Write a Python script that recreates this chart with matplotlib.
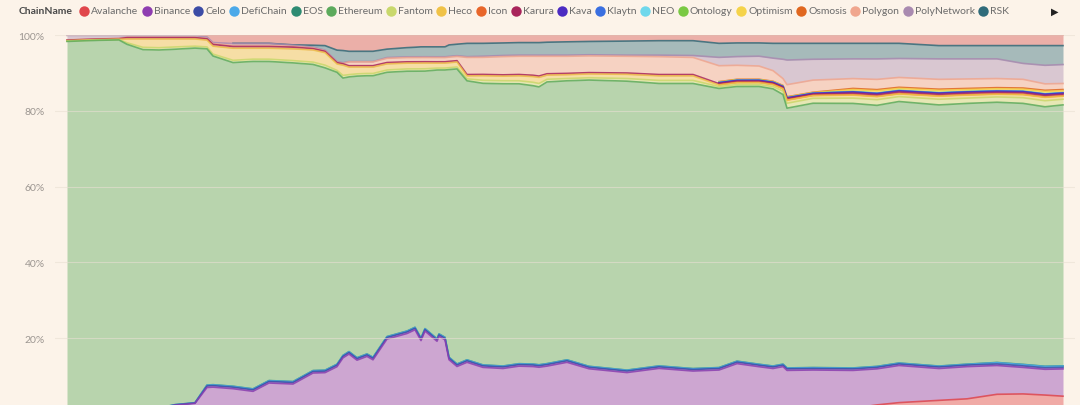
import numpy as np
import matplotlib
matplotlib.use("Agg")
import matplotlib.pyplot as plt

nan = np.nan

# day index of each sample (x axis labels are cut off in the source image)
days = [0, 16, 26, 30, 38, 46, 54, 64, 70, 73,
        83, 93, 101, 113, 123, 129, 135, 138, 141, 145,
        150, 153, 160, 170, 174, 177, 179, 185, 186, 189,
        191, 195, 200, 208, 218, 226, 233, 236, 240, 250,
        261, 280, 296, 313, 326, 335, 346, 353, 358, 360,
        373, 393, 405, 416, 436, 450, 465, 478, 489, 498]

# share of total value per chain (%), bottom to top of the stack; nan = no data yet
avalanche = [nan, nan, nan, nan, nan, nan, nan, nan, nan, nan,
             nan, nan, nan, nan, nan, nan, nan, nan, nan, nan,
             nan, nan, nan, nan, nan, nan, nan, nan, nan, nan,
             nan, nan, nan, nan, nan, nan, nan, nan, nan, nan,
             nan, nan, nan, nan, nan, nan, nan, nan, nan, nan,
             0.2, 1.5, 2.4, 3.0, 3.6, 4.0, 5.2, 5.3, 5.0, 4.7]
binance = [0.8, 0.9, 1.0, 1.0, 1.2, 1.4, 2.3, 2.8, 7.0, 7.1,
           6.7, 6.0, 8.2, 7.9, 10.8, 10.9, 12.5, 14.8, 15.8, 14.2,
           15.2, 14.3, 19.6, 21.0, 22.0, 19.2, 21.7, 19.0, 20.3, 19.4,
           14.2, 12.4, 13.6, 12.3, 12.0, 12.6, 12.5, 12.3, 12.6, 13.6,
           11.9, 10.9, 12.0, 11.3, 11.6, 13.3, 12.5, 12.0, 12.5, 11.5,
           11.4, 10.0, 9.5, 9.8, 8.4, 8.5, 7.6, 7.0, 6.8, 7.2]
celo = [0.1, 0.1, 0.1, 0.1, 0.1, 0.1, 0.1, 0.1, 0.4, 0.4,
        0.4, 0.4, 0.4, 0.4, 0.4, 0.4, 0.4, 0.4, 0.4, 0.4,
        0.4, 0.4, 0.4, 0.4, 0.4, 0.4, 0.4, 0.4, 0.4, 0.4,
        0.4, 0.4, 0.4, 0.4, 0.4, 0.4, 0.4, 0.4, 0.4, 0.4,
        0.4, 0.4, 0.4, 0.4, 0.4, 0.4, 0.4, 0.4, 0.4, 0.4,
        0.4, 0.4, 0.4, 0.4, 0.4, 0.4, 0.4, 0.4, 0.4, 0.4]
defichain = [0.05, 0.05, 0.05, 0.05, 0.05, 0.05, 0.05, 0.05, 0.2, 0.2,
             0.2, 0.2, 0.2, 0.2, 0.2, 0.2, 0.2, 0.2, 0.2, 0.2,
             0.2, 0.2, 0.2, 0.2, 0.2, 0.2, 0.2, 0.2, 0.2, 0.2,
             0.2, 0.2, 0.2, 0.2, 0.2, 0.2, 0.2, 0.2, 0.2, 0.2,
             0.2, 0.2, 0.2, 0.2, 0.2, 0.2, 0.2, 0.2, 0.2, 0.2,
             0.2, 0.2, 0.2, 0.2, 0.2, 0.2, 0.35, 0.35, 0.35, 0.35]
eos = [0.02, 0.02, 0.02, 0.02, 0.02, 0.02, 0.02, 0.02, 0.05, 0.05,
       0.05, 0.05, 0.05, 0.05, 0.05, 0.05, 0.05, 0.05, 0.05, 0.05,
       0.05, 0.05, 0.05, 0.05, 0.05, 0.05, 0.05, 0.05, 0.05, 0.05,
       0.05, 0.05, 0.05, 0.05, 0.05, 0.05, 0.05, 0.05, 0.05, 0.05,
       0.05, 0.05, 0.05, 0.05, 0.05, 0.05, 0.05, 0.05, 0.05, 0.05,
       0.05, 0.05, 0.05, 0.05, 0.05, 0.05, 0.05, 0.05, 0.05, 0.05]
ethereum = [97.7, 97.5, 97.2, 96.2, 94.6, 94.3, 93.6, 93.4, 88.8, 86.9,
            85.7, 86.7, 84.4, 84.0, 80.7, 79.7, 77.1, 73.1, 72.4, 74.3,
            73.4, 74.3, 69.1, 67.8, 66.9, 69.8, 67.4, 70.2, 69.0, 69.9,
            75.2, 77.0, 73.4, 74.3, 74.4, 73.7, 73.3, 73.1, 74.1, 73.4,
            75.3, 76.0, 74.3, 75.0, 73.6, 72.5, 73.4, 73.1, 71.1, 68.5,
            69.7, 69.8, 68.8, 69.0, 68.9, 68.8, 68.7, 68.9, 68.5, 68.9]
fantom = [0.1, 0.1, 0.1, 0.4, 0.6, 0.6, 0.6, 0.5, 0.5, 0.5,
          0.6, 0.6, 0.6, 0.6, 0.6, 0.7, 0.5, 0.7, 0.6, 0.6,
          0.6, 0.6, 0.6, 0.6, 0.6, 0.6, 0.6, 0.5, 0.5, 0.5,
          0.5, 0.5, 0.5, 0.8, 0.8, 0.8, 0.9, 0.9, 0.7, 0.6,
          0.6, 0.7, 0.8, 0.8, 0.5, 0.5, 0.5, 0.6, 0.9, 1.3,
          1.3, 1.4, 1.5, 1.3, 1.5, 1.4, 1.4, 1.5, 1.6, 1.5]
heco = [0.1, 0.1, 0.1, 1.0, 2.2, 2.3, 2.1, 1.9, 1.8, 2.1,
        3.2, 2.9, 2.9, 3.1, 3.2, 3.3, 1.7, 2.7, 2.0, 1.8,
        1.7, 1.7, 1.6, 1.5, 1.5, 1.5, 1.5, 1.3, 1.3, 1.3,
        1.3, 1.3, 0.8, 1.2, 1.2, 1.3, 1.5, 1.6, 1.1, 1.0,
        1.0, 1.1, 1.2, 1.2, 0.4, 0.5, 0.5, 0.5, 0.6, 0.8,
        0.7, 0.8, 0.8, 0.7, 0.8, 0.8, 0.7, 0.8, 0.9, 0.8]
icon = [nan, nan, nan, nan, nan, nan, nan, nan, nan, nan,
        nan, nan, nan, nan, nan, nan, nan, nan, nan, nan,
        nan, nan, nan, nan, nan, nan, nan, nan, nan, nan,
        nan, nan, nan, nan, nan, nan, nan, nan, nan, nan,
        nan, nan, nan, nan, 0.1, 0.1, 0.1, 0.1, 0.1, 0.1,
        0.1, 0.1, 0.1, 0.1, 0.1, 0.1, 0.1, 0.1, 0.1, 0.1]
karura = [0.15, 0.15, 0.15, 0.35, 0.35, 0.35, 0.35, 0.35, 0.35, 0.45,
          0.45, 0.45, 0.45, 0.45, 0.35, 0.35, 0.35, 0.35, 0.35, 0.35,
          0.35, 0.35, 0.35, 0.35, 0.35, 0.35, 0.35, 0.35, 0.35, 0.35,
          0.35, 0.35, 0.35, 0.35, 0.35, 0.35, 0.35, 0.35, 0.35, 0.35,
          0.35, 0.35, 0.35, 0.35, 0.3, 0.3, 0.3, 0.3, 0.3, 0.3,
          0.3, 0.4, 0.4, 0.4, 0.4, 0.4, 0.4, 0.4, 0.4, 0.4]
kava = [nan, nan, nan, nan, nan, nan, nan, nan, nan, nan,
        nan, nan, nan, nan, nan, nan, nan, nan, nan, nan,
        nan, nan, nan, nan, nan, nan, nan, nan, nan, nan,
        nan, nan, nan, nan, nan, nan, nan, nan, nan, nan,
        nan, nan, nan, nan, 0.2, 0.2, 0.2, 0.2, 0.2, 0.2,
        0.2, 0.3, 0.3, 0.3, 0.3, 0.3, 0.3, 0.3, 0.3, 0.3]
klaytn = [nan, nan, nan, nan, nan, nan, nan, nan, nan, nan,
          nan, nan, nan, nan, nan, nan, nan, nan, nan, nan,
          nan, nan, nan, nan, nan, nan, nan, nan, nan, nan,
          nan, nan, nan, nan, nan, nan, nan, nan, nan, nan,
          nan, nan, nan, nan, 0.03, 0.03, 0.03, 0.03, 0.03, 0.03,
          0.03, 0.05, 0.05, 0.05, 0.05, 0.05, 0.05, 0.05, 0.05, 0.05]
neo = [nan, nan, nan, nan, nan, nan, nan, nan, nan, nan,
       nan, nan, nan, nan, nan, nan, nan, nan, nan, nan,
       nan, nan, nan, nan, nan, nan, nan, nan, nan, nan,
       nan, nan, nan, nan, nan, nan, nan, nan, nan, nan,
       nan, nan, nan, nan, 0.03, 0.03, 0.03, 0.03, 0.03, 0.03,
       0.03, 0.05, 0.05, 0.05, 0.05, 0.05, 0.05, 0.05, 0.05, 0.05]
ontology = [nan, nan, nan, nan, nan, nan, nan, nan, nan, nan,
            nan, nan, nan, nan, nan, nan, nan, nan, nan, nan,
            nan, nan, nan, nan, nan, nan, nan, nan, nan, nan,
            nan, nan, nan, nan, nan, nan, nan, nan, nan, nan,
            nan, nan, nan, nan, 0.04, 0.04, 0.04, 0.04, 0.04, 0.04,
            0.04, 0.05, 0.05, 0.05, 0.05, 0.05, 0.05, 0.05, 0.05, 0.05]
optimism = [nan, nan, nan, nan, nan, nan, nan, nan, nan, nan,
            nan, nan, nan, nan, nan, nan, nan, nan, nan, nan,
            nan, nan, nan, nan, nan, nan, nan, nan, nan, nan,
            nan, nan, nan, nan, nan, nan, nan, nan, nan, nan,
            nan, nan, nan, nan, 0.1, 0.1, 0.1, 0.1, 0.1, 0.1,
            0.1, 0.5, 0.6, 0.5, 0.6, 0.5, 0.5, 0.5, 0.6, 0.5]
osmosis = [nan, nan, nan, nan, nan, nan, nan, nan, nan, nan,
           nan, nan, nan, nan, nan, nan, nan, nan, nan, nan,
           nan, nan, nan, nan, nan, nan, nan, nan, nan, nan,
           nan, nan, nan, nan, nan, nan, nan, nan, nan, nan,
           nan, nan, nan, nan, 0.1, 0.1, 0.1, 0.1, 0.1, 0.1,
           0.1, 0.3, 0.3, 0.3, 0.3, 0.3, 0.3, 0.3, 0.3, 0.3]
polygon = [0.05, 0.05, 0.05, 0.1, 0.1, 0.1, 0.1, 0.1, 0.1, 0.2,
           0.3, 0.3, 0.3, 0.2, 0.2, 0.1, 0.1, 0.1, 1.0, 1.0,
           1.0, 1.0, 1.1, 1.1, 1.1, 1.1, 1.1, 1.1, 1.1, 1.1,
           1.1, 1.1, 4.5, 4.5, 4.8, 4.8, 5.0, 5.2, 4.6, 4.5,
           4.4, 4.4, 4.7, 4.5, 4.2, 3.7, 3.5, 2.8, 1.8, 3.2,
           3.2, 2.6, 2.7, 2.6, 2.6, 2.5, 2.4, 2.3, 1.7, 1.6]
polynetwork = [1.2, 0.9, 0.8, 0.4, 0.4, 0.4, 0.4, 0.4, 0.4, 0.3,
               0.5, 0.5, 0.5, 0.3, 0.2, 0.2, 0.2, 0.2, 0.1, 0.1,
               0.1, 0.1, 0.2, 0.2, 0.2, 0.2, 0.2, 0.2, 0.2, 0.2,
               0.2, 0.2, 0.2, 0.3, 0.3, 0.3, 0.3, 0.3, 0.3, 0.3,
               0.3, 0.3, 0.4, 0.5, 2.2, 2.3, 2.6, 3.3, 5.1, 6.5,
               5.5, 5.2, 5.4, 5.0, 5.4, 5.3, 5.2, 4.2, 4.9, 5.0]
rsk = [nan, nan, nan, nan, nan, nan, nan, nan, nan, nan,
       0.05, 0.05, 0.05, 0.1, 0.5, 1.2, 3.0, 3.2, 2.7, 2.7,
       2.7, 2.7, 2.2, 2.4, 2.5, 2.6, 2.6, 2.6, 2.6, 2.6,
       3.0, 3.0, 3.5, 3.4, 3.3, 3.3, 3.3, 3.3, 3.4, 3.5,
       3.5, 3.7, 3.8, 3.9, 3.7, 3.6, 3.5, 3.9, 4.2, 4.4,
       4.2, 4.1, 4.1, 4.0, 3.5, 3.5, 3.5, 4.7, 5.2, 5.0]
solana = [0.1, 0.1, 0.1, 0.2, 0.2, 0.2, 0.2, 0.2, 0.5, 2.0,
          2.2, 2.2, 2.2, 2.6, 2.7, 2.8, 4.0, 4.1, 4.3, 4.3,
          4.3, 4.3, 3.7, 3.3, 3.2, 3.1, 3.1, 3.1, 3.1, 3.1,
          2.6, 2.4, 2.2, 2.2, 2.1, 2.0, 2.0, 2.0, 1.9, 1.8,
          1.7, 1.6, 1.5, 1.5, 2.2, 2.1, 2.1, 2.2, 2.2, 2.2,
          2.2, 2.2, 2.2, 2.2, 2.8, 2.8, 2.8, 2.8, 2.8, 2.8]

chains = ["Avalanche", "Binance", "Celo", "DefiChain", "EOS", "Ethereum",
          "Fantom", "Heco", "Icon", "Karura", "Kava", "Klaytn", "NEO",
          "Ontology", "Optimism", "Osmosis", "Polygon", "PolyNetwork", "RSK",
          "Solana"]
series = [avalanche, binance, celo, defichain, eos, ethereum, fantom, heco,
          icon, karura, kava, klaytn, neo, ontology, optimism, osmosis,
          polygon, polynetwork, rsk, solana]
colors = ["#E0464B", "#8E3DB0", "#3C4CA6", "#4BA9E9", "#2E8B72", "#5CAA5C",
          "#C9D86C", "#F0C247", "#E8662A", "#A8245A", "#4B2BC2", "#3A6FE0",
          "#6FD8EC", "#7AC943", "#F5D34A", "#E0671F", "#F0A68E", "#A98AB0",
          "#2F6B7A", "#D4524E"]

bg = "#FCF3E9"
x = np.array(days)
raw = np.array(series, dtype=float)
have = ~np.isnan(raw)
vals = np.nan_to_num(raw)
vals = vals / vals.sum(axis=0) * 100  # 100% stacked
tops = np.cumsum(vals, axis=0)
bottoms = tops - vals

fig = plt.figure(figsize=(10.8, 4.06), dpi=100, facecolor=bg)
ax = fig.add_axes([55 / 1080, 1 - 415 / 406, 1020 / 1080, 379 / 406])
ax.set_facecolor(bg)

for i in range(len(chains)):
    ax.fill_between(x, bottoms[i], tops[i], where=have[i], color=colors[i],
                    alpha=0.42, linewidth=0, zorder=1)
# draw top-of-stack lines first so that lower series win where lines coincide
for i in reversed(range(len(chains))):
    line = np.where(have[i], tops[i], np.nan)
    ax.plot(x, line, color=colors[i], lw=1.2, alpha=0.85, zorder=2,
            solid_joinstyle="round")

ax.set_xlim(-6, 504)
ax.set_ylim(0, 100)
ax.set_yticks([20, 40, 60, 80, 100])
ax.set_yticklabels(["20%", "40%", "60%", "80%", "100%"])
ax.tick_params(axis="y", length=0, pad=7.5, labelsize=7.5, labelcolor="#9C9691")
for lab in ax.get_yticklabels():
    lab.set_family("Lato")
ax.set_xticks([])
ax.grid(axis="y", color="#E8DFD3", lw=0.8, alpha=0.6, zorder=3)
ax.set_axisbelow(False)
for s in ax.spines.values():
    s.set_visible(False)

# legend row drawn by hand, Power BI style
ly = 1 - 12 / 406
fig.canvas.draw()
r = fig.canvas.get_renderer()
t = fig.text(19 / 1080, ly, "ChainName", fontsize=7.5, fontweight="bold",
             color="#4A4A4A", family="Lato", va="center")
xpos = t.get_window_extent(r).x1 + 11
for name, c in zip(chains[:19], colors[:19]):
    fig.add_artist(plt.Line2D([xpos / 1080], [ly], marker="o", markersize=7.5,
                              color=c, markeredgewidth=0,
                              transform=fig.transFigure))
    tt = fig.text((xpos + 7) / 1080, ly, name, fontsize=7.5, color="#6B6B6B",
                  family="Lato", va="center")
    xpos = tt.get_window_extent(r).x1 + 8.5
fig.text(1055 / 1080, ly, "\u25B6", fontsize=7, color="#222222",
         ha="center", va="center", family="DejaVu Sans")

fig.savefig("out.png", dpi=100, facecolor=bg)
